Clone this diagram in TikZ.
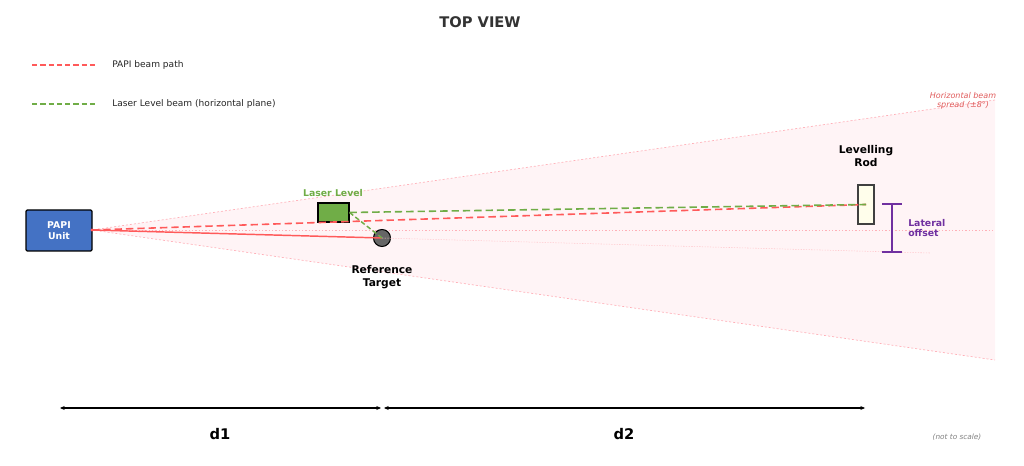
\documentclass[tikz,border=0pt]{standalone}
\usepackage{fontspec}
\setmainfont{DejaVu Sans}
\usetikzlibrary{arrows.meta}
\definecolor{papired}{HTML}{FF5A5A}
\definecolor{lasergreen}{HTML}{70AD47}
\definecolor{papiblue}{HTML}{4472C4}
\definecolor{spreadfill}{HTML}{FFF4F6}
\definecolor{spreadedge}{HTML}{FFB0B8}
\definecolor{offsetpurple}{HTML}{7030A0}
\definecolor{titlegray}{HTML}{333333}
\definecolor{spreadtext}{HTML}{E05A5A}
\tikzset{
  lbl/.style={font=\fontsize{8}{9.5}\selectfont\bfseries, align=center, inner sep=0pt},
  beamdash/.style={dash pattern=on 5.5pt off 3pt, line width=1.2pt},
  legtext/.style={font=\fontsize{6.8}{8}\selectfont, anchor=west, inner sep=0pt, text=black!85},
  dimarrow/.style={{Stealth[length=3.5pt,width=3pt]}-{Stealth[length=3.5pt,width=3pt]}, line width=0.8pt},
}
\begin{document}
\begin{tikzpicture}[x=0.75pt,y=-0.75pt]
\useasboundingbox (0,0) rectangle (1024,466);
% title
\node[font=\fontsize{11}{13}\selectfont\bfseries, text=titlegray] (title) at (480,22) {TOP VIEW};
% legend
\coordinate (lr1) at (32,65); \coordinate (lr2) at (96,65);
\draw[papired, dash pattern=on 4pt off 2.2pt, line width=0.9pt] (lr1) -- (lr2);
\node[legtext] (lt1) at (112,65) {PAPI beam path};
\coordinate (lg1) at (32,104); \coordinate (lg2) at (96,104);
\draw[lasergreen, dash pattern=on 4pt off 2.2pt, line width=0.9pt] (lg1) -- (lg2);
\node[legtext] (lt2) at (112,104) {Laser Level beam (horizontal plane)};
% spread
\coordinate (src) at (92,230);
\coordinate (sptop) at (995,100);
\coordinate (spbot) at (995,360);
\fill[spreadfill] (src) -- (sptop) -- (spbot) -- cycle;
\draw[spreadedge, dash pattern=on 1.5pt off 1.5pt, line width=0.5pt] (sptop) -- (src) -- (spbot);
\coordinate (axend) at (995,230);
\draw[spreadedge, dash pattern=on 1pt off 1.5pt, line width=0.5pt] (src) -- (axend);
\node[font=\fontsize{6}{6.5}\selectfont\itshape, text=spreadtext, align=center, inner sep=0pt] (spreadlbl) at (963,101) {Horizontal beam\\spread (±8°)};
% nodes
\node[draw=black, line width=0.9pt, fill=papiblue, rounded corners=1pt, minimum width=66*0.75pt, minimum height=41*0.75pt, inner sep=0pt, text=white, font=\fontsize{7}{8}\selectfont\bfseries, align=center] (papi) at (59,230.5) {PAPI\\Unit};
\node[draw=black, line width=0.8pt, fill=lasergreen, minimum width=31*0.75pt, minimum height=19*0.75pt, inner sep=0pt] (laser) at (333.5,212.5) {};
\node[lbl, text=lasergreen, font=\fontsize{7}{8}\selectfont\bfseries] (laserlbl) at (333,193) {Laser Level};
\node[draw=black, line width=0.8pt, fill=black!60, circle, minimum size=17*0.75pt, inner sep=0pt] (target) at (382,238) {};
\node[lbl] (targetlbl) at (382,277) {Reference\\Target};
\node[draw=black!75, line width=0.9pt, fill=yellow!8, minimum width=16*0.75pt, minimum height=39*0.75pt, inner sep=0pt] (rod) at (866,204.5) {};
\node[lbl] (rodlbl) at (866,156) {Levelling\\Rod};
% faint line from target
\coordinate (faintend) at (930,253);
\draw[spreadedge!70, dash pattern=on 1pt off 1pt, line width=0.4pt] (target.center) -- (faintend);
% beams
\draw[papired, line width=1.1pt] (src) -- (target.center);
\draw[papired, beamdash] (src) -- (rod.center);
\draw[lasergreen, beamdash] (laser.east) -- (rod.center);
\draw[lasergreen, dash pattern=on 3.5pt off 2pt, line width=1.1pt] (laser.east) -- (target.center);
\fill[papired] (src) circle (1.2pt);
% lateral offset
\coordinate (lo1) at (892,204); \coordinate (lo2) at (892,252);
\draw[offsetpurple, line width=1.1pt] (lo1) -- (lo2);
\draw[offsetpurple, line width=1.1pt] ([xshift=-10*0.75pt]lo1) -- ([xshift=10*0.75pt]lo1);
\draw[offsetpurple, line width=1.1pt] ([xshift=-10*0.75pt]lo2) -- ([xshift=10*0.75pt]lo2);
\node[lbl, text=offsetpurple, font=\fontsize{7}{8}\selectfont\bfseries, align=left, anchor=west] (offsetlbl) at (908,228) {Lateral\\offset};
% dimensions
\coordinate (d1a) at (60,408); \coordinate (d1b) at (381,408);
\coordinate (d2a) at (384,408); \coordinate (d2b) at (865,408);
\draw[dimarrow] (d1a) -- (d1b);
\draw[dimarrow] (d2a) -- (d2b);
\node[font=\fontsize{11}{13}\selectfont\bfseries] (d1lbl) at (220,434) {d1};
\node[font=\fontsize{11}{13}\selectfont\bfseries] (d2lbl) at (624,434) {d2};
\node[font=\fontsize{5.5}{6.5}\selectfont\itshape, text=black!50] (nts) at (957,437) {(not to scale)};
\end{tikzpicture}
\end{document}
